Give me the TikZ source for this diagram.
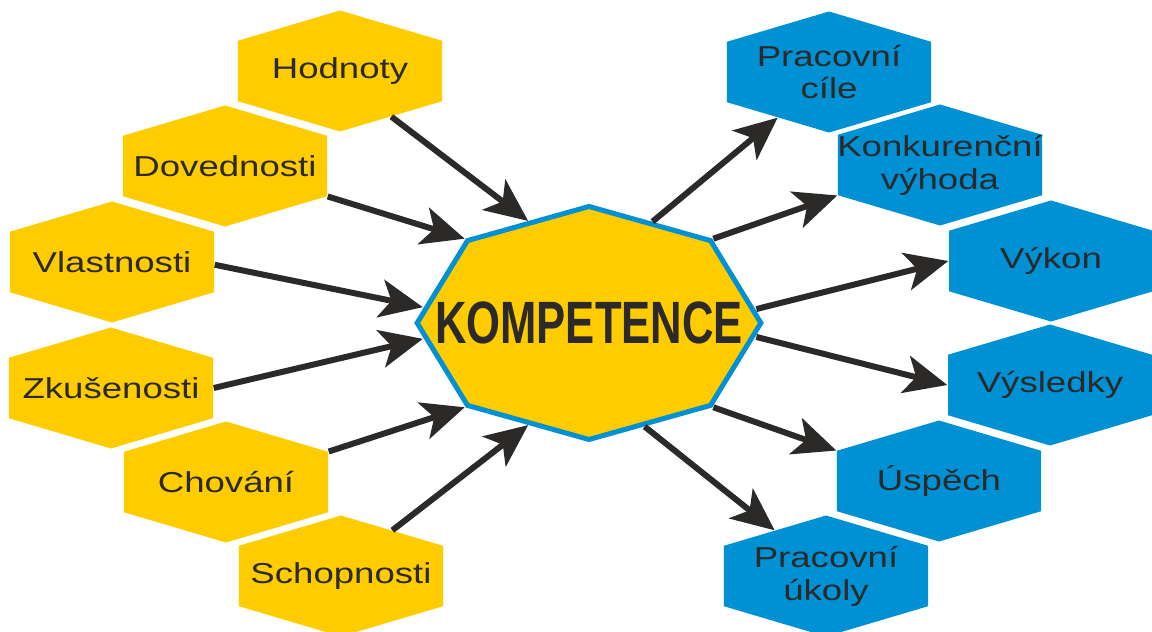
\documentclass[tikz,border=0pt]{standalone}
\usepackage{fontspec}
\setmainfont{Liberation Sans}
\newfontfamily\hexfont[FakeStretch=1.27]{Liberation Sans}
\newfontfamily\kompfont[FakeStretch=0.73]{Liberation Sans}
\usetikzlibrary{shapes.geometric,arrows.meta}

\definecolor{hexyellow}{RGB}{255,204,0}
\definecolor{hexblue}{RGB}{0,144,212}
\definecolor{inkgray}{RGB}{43,42,41}

\tikzset{
  hexa/.style={regular polygon,regular polygon sides=6,shape border rotate=30,
    minimum size=24.2mm,inner sep=0pt,xscale=1.947,draw=none},
  hexy/.style={hexa,fill=hexyellow},
  hexb/.style={hexa,fill=hexblue},
  hextext/.style={font=\hexfont\fontsize{16.4}{18.7}\selectfont,text=inkgray,align=center},
  komp/.style={regular polygon,regular polygon sides=8,shape border rotate=22.5,
    minimum size=46.6mm,inner sep=0pt,xscale=1.475,fill=hexyellow,draw=hexblue,line width=1mm},
  komptext/.style={font=\kompfont\bfseries\fontsize{34}{40}\selectfont,text=inkgray},
  arr/.style={-{Stealth[length=8.6mm,width=7.6mm,inset=2.2mm]},line width=1.2mm,draw=inkgray}
}

\begin{document}
\begin{tikzpicture}[x=0.2mm,y=-0.2mm]
\useasboundingbox (0,0) rectangle (1152,632);

\node[komp] (kom) at (589,323) {};
\node[komptext] (kom-t) at (kom) {KOMPETENCE};

\node[hexy] (hod) at (340,71) {};
\node[hexy] (dov) at (225,166) {};
\node[hexy] (vla) at (112,262) {};
\node[hexy] (zku) at (111,388) {};
\node[hexy] (cho) at (226,482) {};
\node[hexy] (sch) at (341,576) {};

\node[hextext] (hod-t) at (hod) {Hodnoty};
\node[hextext] (dov-t) at (dov) {Dovednosti};
\node[hextext] (vla-t) at (vla) {Vlastnosti};
\node[hextext] (zku-t) at (zku) {Zkušenosti};
\node[hextext] (cho-t) at (cho) {Chování};
\node[hextext] (sch-t) at (sch) {Schopnosti};

\node[hexb] (pcil) at (829,72) {};
\node[hexb] (konk) at (940,165) {};
\node[hexb] (vyk) at (1051,261) {};
\node[hexb] (vys) at (1050,385) {};
\node[hexb] (usp) at (939,481) {};
\node[hexb] (puk) at (826,576) {};

\node[hextext] (pcil-t) at (pcil) {Pracovní\\cíle};
\node[hextext] (konk-t) at (konk) {Konkurenční\\výhoda};
\node[hextext] (vyk-t) at (vyk) {Výkon};
\node[hextext] (vys-t) at (vys) {Výsledky};
\node[hextext] (usp-t) at (usp) {Úspěch};
\node[hextext] (puk-t) at (puk) {Pracovní\\úkoly};

\draw[arr] (hod.-60) -- (kom.112.7);
\draw[arr] (dov.-30) -- (kom.135);
\draw[arr] (vla.-3) -- (kom.172.6);
\draw[arr] (zku.0) -- (kom.-172.6);
\draw[arr] (cho.30) -- (kom.-135);
\draw[arr] (sch.60) -- (kom.-112.7);

\draw[arr] (kom.67.3) -- (pcil.-120);
\draw[arr] (kom.45) -- (konk.-150);
\draw[arr] (kom.7.4) -- (vyk.180);
\draw[arr] (kom.-7.4) -- (vys.180);
\draw[arr] (kom.-45) -- (usp.150);
\draw[arr] (kom.-70) -- (puk.120);

\end{tikzpicture}
\end{document}
